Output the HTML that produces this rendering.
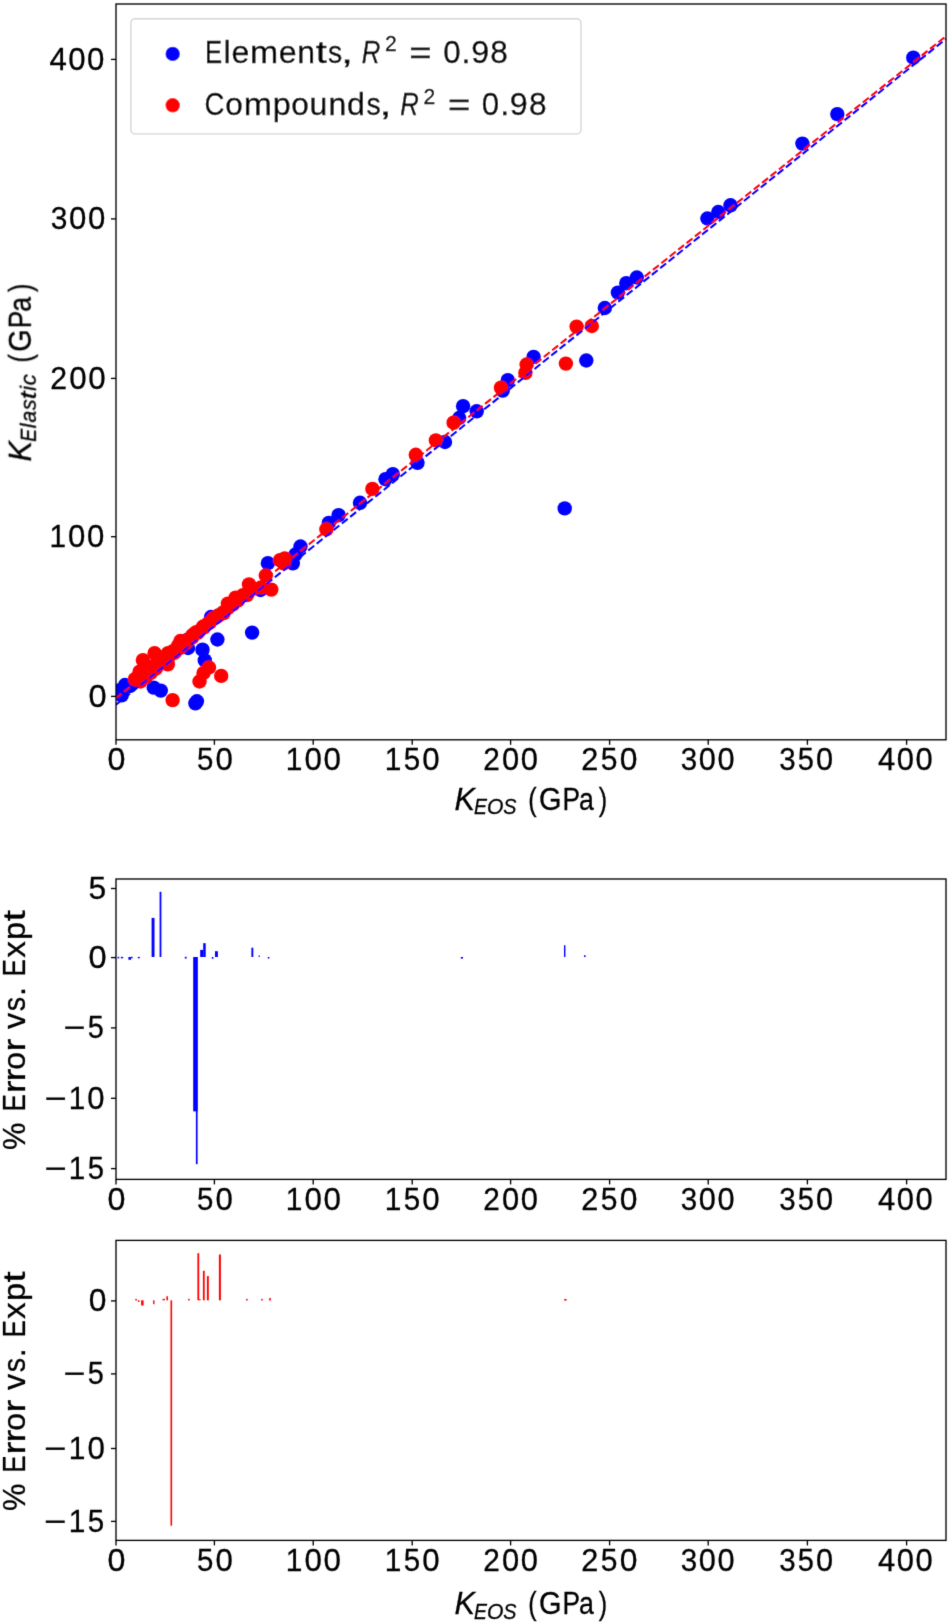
<!DOCTYPE html><html><head><meta charset="utf-8"><title>K_EOS vs K_Elastic</title><style>html,body{margin:0;padding:0;background:#fff;overflow:hidden}svg{display:block}</style></head><body>
<svg width="950" height="1622" viewBox="0 0 950 1622">
<rect width="950" height="1622" fill="#fff"/>
<defs><filter id="bl" x="0" y="0" width="950" height="1622" filterUnits="userSpaceOnUse"><feConvolveMatrix order="3" kernelMatrix="0.01134 0.08382 0.01134 0.08382 0.61935 0.08382 0.01134 0.08382 0.01134" edgeMode="none"/></filter></defs>
<g filter="url(#bl)">
<defs><clipPath id="c1"><rect x="116.0" y="4.0" width="830.00" height="735.80"/></clipPath></defs>
<g clip-path="url(#c1)">
<circle cx="913.3" cy="57.7" r="7.2" fill="#0000ff"/>
<circle cx="837.3" cy="114.1" r="7.2" fill="#0000ff"/>
<circle cx="802.4" cy="143.6" r="7.2" fill="#0000ff"/>
<circle cx="730.5" cy="205.3" r="7.2" fill="#0000ff"/>
<circle cx="718.3" cy="212.0" r="7.2" fill="#0000ff"/>
<circle cx="707.4" cy="218.5" r="7.2" fill="#0000ff"/>
<circle cx="636.8" cy="277.5" r="7.2" fill="#0000ff"/>
<circle cx="626.3" cy="283.2" r="7.2" fill="#0000ff"/>
<circle cx="617.9" cy="292.6" r="7.2" fill="#0000ff"/>
<circle cx="604.8" cy="308.0" r="7.2" fill="#0000ff"/>
<circle cx="586.3" cy="360.5" r="7.2" fill="#0000ff"/>
<circle cx="564.7" cy="508.4" r="7.2" fill="#0000ff"/>
<circle cx="533.6" cy="356.9" r="7.2" fill="#0000ff"/>
<circle cx="507.8" cy="380.2" r="7.2" fill="#0000ff"/>
<circle cx="502.7" cy="390.6" r="7.2" fill="#0000ff"/>
<circle cx="476.7" cy="411.3" r="7.2" fill="#0000ff"/>
<circle cx="463.1" cy="406.2" r="7.2" fill="#0000ff"/>
<circle cx="459.2" cy="418.0" r="7.2" fill="#0000ff"/>
<circle cx="445.0" cy="442.0" r="7.2" fill="#0000ff"/>
<circle cx="417.5" cy="462.8" r="7.2" fill="#0000ff"/>
<circle cx="392.8" cy="474.2" r="7.2" fill="#0000ff"/>
<circle cx="385.5" cy="479.2" r="7.2" fill="#0000ff"/>
<circle cx="360.0" cy="502.8" r="7.2" fill="#0000ff"/>
<circle cx="338.6" cy="515.2" r="7.2" fill="#0000ff"/>
<circle cx="328.8" cy="522.9" r="7.2" fill="#0000ff"/>
<circle cx="300.5" cy="546.5" r="7.2" fill="#0000ff"/>
<circle cx="295.5" cy="554.5" r="7.2" fill="#0000ff"/>
<circle cx="292.8" cy="563.4" r="7.2" fill="#0000ff"/>
<circle cx="267.9" cy="563.2" r="7.2" fill="#0000ff"/>
<circle cx="260.5" cy="590.0" r="7.2" fill="#0000ff"/>
<circle cx="252.1" cy="632.6" r="7.2" fill="#0000ff"/>
<circle cx="217.4" cy="639.5" r="7.2" fill="#0000ff"/>
<circle cx="202.5" cy="649.7" r="7.2" fill="#0000ff"/>
<circle cx="204.8" cy="660.4" r="7.2" fill="#0000ff"/>
<circle cx="196.9" cy="701.3" r="7.2" fill="#0000ff"/>
<circle cx="195.4" cy="703.4" r="7.2" fill="#0000ff"/>
<circle cx="153.7" cy="687.6" r="7.2" fill="#0000ff"/>
<circle cx="160.8" cy="690.6" r="7.2" fill="#0000ff"/>
<circle cx="211.0" cy="617.0" r="7.2" fill="#0000ff"/>
<circle cx="187.0" cy="640.0" r="7.2" fill="#0000ff"/>
<circle cx="188.0" cy="648.0" r="7.2" fill="#0000ff"/>
<circle cx="118.8" cy="690.5" r="7.2" fill="#0000ff"/>
<circle cx="125.0" cy="685.0" r="7.2" fill="#0000ff"/>
<circle cx="121.7" cy="695.3" r="7.2" fill="#0000ff"/>
<circle cx="130.0" cy="686.0" r="7.2" fill="#0000ff"/>
<circle cx="140.0" cy="678.0" r="7.2" fill="#0000ff"/>
<circle cx="150.0" cy="670.0" r="7.2" fill="#0000ff"/>
<circle cx="175.0" cy="652.0" r="7.2" fill="#0000ff"/>
<circle cx="591.8" cy="326.0" r="7.2" fill="#ff0000"/>
<circle cx="576.6" cy="326.6" r="7.2" fill="#ff0000"/>
<circle cx="565.9" cy="363.6" r="7.2" fill="#ff0000"/>
<circle cx="526.6" cy="364.5" r="7.2" fill="#ff0000"/>
<circle cx="525.4" cy="372.9" r="7.2" fill="#ff0000"/>
<circle cx="501.0" cy="387.7" r="7.2" fill="#ff0000"/>
<circle cx="453.6" cy="422.7" r="7.2" fill="#ff0000"/>
<circle cx="435.9" cy="440.4" r="7.2" fill="#ff0000"/>
<circle cx="415.8" cy="454.8" r="7.2" fill="#ff0000"/>
<circle cx="372.4" cy="488.9" r="7.2" fill="#ff0000"/>
<circle cx="326.4" cy="529.3" r="7.2" fill="#ff0000"/>
<circle cx="280.0" cy="560.2" r="7.2" fill="#ff0000"/>
<circle cx="284.7" cy="558.4" r="7.2" fill="#ff0000"/>
<circle cx="283.7" cy="563.4" r="7.2" fill="#ff0000"/>
<circle cx="265.8" cy="575.5" r="7.2" fill="#ff0000"/>
<circle cx="271.3" cy="589.6" r="7.2" fill="#ff0000"/>
<circle cx="249.0" cy="584.4" r="7.2" fill="#ff0000"/>
<circle cx="246.8" cy="595.1" r="7.2" fill="#ff0000"/>
<circle cx="235.6" cy="597.7" r="7.2" fill="#ff0000"/>
<circle cx="227.9" cy="603.6" r="7.2" fill="#ff0000"/>
<circle cx="223.6" cy="613.1" r="7.2" fill="#ff0000"/>
<circle cx="218.4" cy="615.5" r="7.2" fill="#ff0000"/>
<circle cx="203.3" cy="626.5" r="7.2" fill="#ff0000"/>
<circle cx="195.7" cy="632.5" r="7.2" fill="#ff0000"/>
<circle cx="191.8" cy="636.0" r="7.2" fill="#ff0000"/>
<circle cx="180.4" cy="641.0" r="7.2" fill="#ff0000"/>
<circle cx="169.1" cy="653.5" r="7.2" fill="#ff0000"/>
<circle cx="158.6" cy="658.3" r="7.2" fill="#ff0000"/>
<circle cx="154.6" cy="653.2" r="7.2" fill="#ff0000"/>
<circle cx="142.9" cy="660.2" r="7.2" fill="#ff0000"/>
<circle cx="148.2" cy="667.8" r="7.2" fill="#ff0000"/>
<circle cx="139.7" cy="671.6" r="7.2" fill="#ff0000"/>
<circle cx="134.9" cy="679.2" r="7.2" fill="#ff0000"/>
<circle cx="167.8" cy="664.3" r="7.2" fill="#ff0000"/>
<circle cx="209.0" cy="667.5" r="7.2" fill="#ff0000"/>
<circle cx="203.5" cy="673.0" r="7.2" fill="#ff0000"/>
<circle cx="199.5" cy="681.5" r="7.2" fill="#ff0000"/>
<circle cx="221.2" cy="675.9" r="7.2" fill="#ff0000"/>
<circle cx="172.6" cy="700.1" r="7.2" fill="#ff0000"/>
<circle cx="138.0" cy="676.9" r="7.2" fill="#ff0000"/>
<circle cx="143.0" cy="673.7" r="7.2" fill="#ff0000"/>
<circle cx="148.0" cy="669.4" r="7.2" fill="#ff0000"/>
<circle cx="153.0" cy="666.1" r="7.2" fill="#ff0000"/>
<circle cx="158.0" cy="662.3" r="7.2" fill="#ff0000"/>
<circle cx="163.0" cy="657.1" r="7.2" fill="#ff0000"/>
<circle cx="168.0" cy="653.1" r="7.2" fill="#ff0000"/>
<circle cx="173.0" cy="651.2" r="7.2" fill="#ff0000"/>
<circle cx="178.0" cy="645.9" r="7.2" fill="#ff0000"/>
<circle cx="183.0" cy="642.0" r="7.2" fill="#ff0000"/>
<circle cx="188.0" cy="639.9" r="7.2" fill="#ff0000"/>
<circle cx="193.0" cy="634.8" r="7.2" fill="#ff0000"/>
<circle cx="198.0" cy="631.8" r="7.2" fill="#ff0000"/>
<circle cx="203.0" cy="627.1" r="7.2" fill="#ff0000"/>
<circle cx="208.0" cy="623.6" r="7.2" fill="#ff0000"/>
<circle cx="213.0" cy="618.5" r="7.2" fill="#ff0000"/>
<circle cx="218.0" cy="615.8" r="7.2" fill="#ff0000"/>
<circle cx="223.0" cy="612.5" r="7.2" fill="#ff0000"/>
<circle cx="228.0" cy="607.8" r="7.2" fill="#ff0000"/>
<circle cx="233.0" cy="604.5" r="7.2" fill="#ff0000"/>
<circle cx="238.0" cy="600.4" r="7.2" fill="#ff0000"/>
<circle cx="243.0" cy="595.1" r="7.2" fill="#ff0000"/>
<circle cx="248.0" cy="592.9" r="7.2" fill="#ff0000"/>
<circle cx="253.0" cy="588.6" r="7.2" fill="#ff0000"/>
<circle cx="140.5" cy="681.5" r="7.2" fill="#ff0000"/>
<circle cx="146.0" cy="676.8" r="7.2" fill="#ff0000"/>
<circle cx="151.0" cy="672.6" r="7.2" fill="#ff0000"/>
<circle cx="156.0" cy="668.3" r="7.2" fill="#ff0000"/>
<circle cx="162.0" cy="663.2" r="7.2" fill="#ff0000"/>
<circle cx="168.0" cy="658.1" r="7.2" fill="#ff0000"/>
<circle cx="174.0" cy="653.0" r="7.2" fill="#ff0000"/>
<circle cx="180.0" cy="647.9" r="7.2" fill="#ff0000"/>
<circle cx="186.0" cy="642.8" r="7.2" fill="#ff0000"/>
<circle cx="192.0" cy="637.7" r="7.2" fill="#ff0000"/>
<circle cx="198.0" cy="632.6" r="7.2" fill="#ff0000"/>
<circle cx="204.0" cy="627.5" r="7.2" fill="#ff0000"/>
<circle cx="210.0" cy="622.4" r="7.2" fill="#ff0000"/>
<circle cx="216.0" cy="617.3" r="7.2" fill="#ff0000"/>
<circle cx="261.0" cy="587.5" r="7.2" fill="#ff0000"/>
<line x1="115.63" y1="705.00" x2="950" y2="35.67" stroke="#0000ff" stroke-width="2.05" stroke-dasharray="7.5 3.24"/>
<line x1="115.63" y1="698.50" x2="950" y2="33.00" stroke="#ff0000" stroke-width="2.05" stroke-dasharray="7.5 3.24"/>
</g>
<rect x="151.6" y="917.9" width="2.90" height="39.10" fill="#0000ff"/>
<rect x="159.6" y="891.8" width="1.80" height="65.20" fill="#0000ff"/>
<rect x="193.2" y="957.0" width="4.40" height="154.40" fill="#0000ff"/>
<rect x="195.9" y="957.0" width="1.70" height="207.20" fill="#0000ff"/>
<rect x="200.2" y="949.9" width="3.00" height="7.10" fill="#0000ff"/>
<rect x="203.2" y="943.2" width="2.50" height="13.80" fill="#0000ff"/>
<rect x="215.0" y="951.2" width="2.90" height="5.80" fill="#0000ff"/>
<rect x="251.4" y="947.7" width="1.90" height="9.30" fill="#0000ff"/>
<rect x="258.6" y="955.5" width="1.20" height="1.50" fill="#0000ff"/>
<rect x="267.8" y="957.0" width="1.60" height="1.60" fill="#0000ff"/>
<rect x="460.8" y="957.0" width="2.20" height="1.60" fill="#0000ff"/>
<rect x="564.0" y="945.2" width="1.40" height="11.80" fill="#0000ff"/>
<rect x="584.0" y="955.3" width="1.60" height="1.70" fill="#0000ff"/>
<rect x="117.6" y="956.8" width="1.60" height="1.60" fill="#0000ff"/>
<rect x="120.8" y="956.9" width="2.40" height="1.40" fill="#0000ff"/>
<rect x="128.4" y="957.0" width="2.60" height="2.80" fill="#0000ff"/>
<rect x="131.0" y="956.8" width="1.60" height="1.50" fill="#0000ff"/>
<rect x="137.8" y="956.9" width="2.00" height="1.40" fill="#0000ff"/>
<rect x="184.8" y="956.8" width="1.80" height="1.80" fill="#0000ff"/>
<rect x="211.8" y="957.0" width="1.60" height="1.80" fill="#0000ff"/>
<rect x="135.3" y="1298.9" width="1.60" height="1.60" fill="#ff0000"/>
<rect x="137.9" y="1300.2" width="1.60" height="1.60" fill="#ff0000"/>
<rect x="141.1" y="1300.3" width="2.50" height="5.20" fill="#ff0000"/>
<rect x="153.1" y="1300.3" width="1.40" height="3.90" fill="#ff0000"/>
<rect x="162.5" y="1298.9" width="2.50" height="1.40" fill="#ff0000"/>
<rect x="166.4" y="1296.3" width="1.60" height="4.00" fill="#ff0000"/>
<rect x="170.5" y="1300.3" width="1.60" height="225.40" fill="#ff0000"/>
<rect x="188.1" y="1298.9" width="1.60" height="1.60" fill="#ff0000"/>
<rect x="197.4" y="1253.2" width="1.80" height="47.10" fill="#ff0000"/>
<rect x="199.2" y="1299.0" width="1.30" height="1.30" fill="#ff0000"/>
<rect x="202.9" y="1270.8" width="1.80" height="29.50" fill="#ff0000"/>
<rect x="206.9" y="1276.1" width="1.90" height="24.20" fill="#ff0000"/>
<rect x="218.9" y="1254.5" width="2.00" height="45.80" fill="#ff0000"/>
<rect x="246.1" y="1298.9" width="1.60" height="1.60" fill="#ff0000"/>
<rect x="261.1" y="1298.9" width="1.60" height="1.60" fill="#ff0000"/>
<rect x="269.2" y="1298.0" width="1.60" height="2.60" fill="#ff0000"/>
<rect x="564.2" y="1299.0" width="2.40" height="1.60" fill="#ff0000"/>
<line x1="111.00" y1="696.4" x2="116.0" y2="696.4" stroke="#000" stroke-width="1.34"/>
<line x1="111.00" y1="536.7" x2="116.0" y2="536.7" stroke="#000" stroke-width="1.34"/>
<line x1="111.00" y1="378.4" x2="116.0" y2="378.4" stroke="#000" stroke-width="1.34"/>
<line x1="111.00" y1="218.9" x2="116.0" y2="218.9" stroke="#000" stroke-width="1.34"/>
<line x1="111.00" y1="59.4" x2="116.0" y2="59.4" stroke="#000" stroke-width="1.34"/>
<line x1="116.0" y1="739.8" x2="116.0" y2="744.80" stroke="#000" stroke-width="1.34"/>
<line x1="214.4" y1="739.8" x2="214.4" y2="744.80" stroke="#000" stroke-width="1.34"/>
<line x1="313.2" y1="739.8" x2="313.2" y2="744.80" stroke="#000" stroke-width="1.34"/>
<line x1="412.2" y1="739.8" x2="412.2" y2="744.80" stroke="#000" stroke-width="1.34"/>
<line x1="510.6" y1="739.8" x2="510.6" y2="744.80" stroke="#000" stroke-width="1.34"/>
<line x1="609.6" y1="739.8" x2="609.6" y2="744.80" stroke="#000" stroke-width="1.34"/>
<line x1="708.2" y1="739.8" x2="708.2" y2="744.80" stroke="#000" stroke-width="1.34"/>
<line x1="807.4" y1="739.8" x2="807.4" y2="744.80" stroke="#000" stroke-width="1.34"/>
<line x1="906.6" y1="739.8" x2="906.6" y2="744.80" stroke="#000" stroke-width="1.34"/>
<rect x="116.0" y="4.0" width="830.00" height="735.80" fill="none" stroke="#000" stroke-width="1.34"/>
<line x1="111.00" y1="888.5" x2="116.0" y2="888.5" stroke="#000" stroke-width="1.34"/>
<line x1="111.00" y1="957.6" x2="116.0" y2="957.6" stroke="#000" stroke-width="1.34"/>
<line x1="111.00" y1="1027.9" x2="116.0" y2="1027.9" stroke="#000" stroke-width="1.34"/>
<line x1="111.00" y1="1098.3" x2="116.0" y2="1098.3" stroke="#000" stroke-width="1.34"/>
<line x1="111.00" y1="1168.6" x2="116.0" y2="1168.6" stroke="#000" stroke-width="1.34"/>
<line x1="116.0" y1="1179.4" x2="116.0" y2="1184.40" stroke="#000" stroke-width="1.34"/>
<line x1="214.4" y1="1179.4" x2="214.4" y2="1184.40" stroke="#000" stroke-width="1.34"/>
<line x1="313.2" y1="1179.4" x2="313.2" y2="1184.40" stroke="#000" stroke-width="1.34"/>
<line x1="412.2" y1="1179.4" x2="412.2" y2="1184.40" stroke="#000" stroke-width="1.34"/>
<line x1="510.6" y1="1179.4" x2="510.6" y2="1184.40" stroke="#000" stroke-width="1.34"/>
<line x1="609.6" y1="1179.4" x2="609.6" y2="1184.40" stroke="#000" stroke-width="1.34"/>
<line x1="708.2" y1="1179.4" x2="708.2" y2="1184.40" stroke="#000" stroke-width="1.34"/>
<line x1="807.4" y1="1179.4" x2="807.4" y2="1184.40" stroke="#000" stroke-width="1.34"/>
<line x1="906.6" y1="1179.4" x2="906.6" y2="1184.40" stroke="#000" stroke-width="1.34"/>
<rect x="116.0" y="879.0" width="830.00" height="300.40" fill="none" stroke="#000" stroke-width="1.34"/>
<line x1="111.00" y1="1300.9" x2="116.0" y2="1300.9" stroke="#000" stroke-width="1.34"/>
<line x1="111.00" y1="1373.9" x2="116.0" y2="1373.9" stroke="#000" stroke-width="1.34"/>
<line x1="111.00" y1="1448.5" x2="116.0" y2="1448.5" stroke="#000" stroke-width="1.34"/>
<line x1="111.00" y1="1521.4" x2="116.0" y2="1521.4" stroke="#000" stroke-width="1.34"/>
<line x1="116.0" y1="1540.4" x2="116.0" y2="1545.40" stroke="#000" stroke-width="1.34"/>
<line x1="214.4" y1="1540.4" x2="214.4" y2="1545.40" stroke="#000" stroke-width="1.34"/>
<line x1="313.2" y1="1540.4" x2="313.2" y2="1545.40" stroke="#000" stroke-width="1.34"/>
<line x1="412.2" y1="1540.4" x2="412.2" y2="1545.40" stroke="#000" stroke-width="1.34"/>
<line x1="510.6" y1="1540.4" x2="510.6" y2="1545.40" stroke="#000" stroke-width="1.34"/>
<line x1="609.6" y1="1540.4" x2="609.6" y2="1545.40" stroke="#000" stroke-width="1.34"/>
<line x1="708.2" y1="1540.4" x2="708.2" y2="1545.40" stroke="#000" stroke-width="1.34"/>
<line x1="807.4" y1="1540.4" x2="807.4" y2="1545.40" stroke="#000" stroke-width="1.34"/>
<line x1="906.6" y1="1540.4" x2="906.6" y2="1545.40" stroke="#000" stroke-width="1.34"/>
<rect x="116.0" y="1240.4" width="830.00" height="300.00" fill="none" stroke="#000" stroke-width="1.34"/>
<rect x="130.9" y="18.8" width="450.1" height="115.1" rx="4.2" fill="#fff" fill-opacity="0.8" stroke="#d6d6d6" stroke-width="1.4"/>
<circle cx="172.7" cy="53.9" r="7.2" fill="#0000ff"/>
<circle cx="172.7" cy="105.3" r="7.2" fill="#ff0000"/>
<defs><filter id="gs" x="0" y="0" width="1" height="1" filterUnits="objectBoundingBox"><feColorMatrix type="saturate" values="0"/></filter></defs>
<g font-family="Liberation Sans, sans-serif" fill="#000" stroke="#000" stroke-width="0.3" filter="url(#gs)">
<text y="706.70" font-size="31.47"><tspan x="88.43" textLength="18.15" lengthAdjust="spacingAndGlyphs">0</tspan></text>
<text y="547.00" font-size="31.47"><tspan x="49.53" textLength="16.55" lengthAdjust="spacingAndGlyphs">1</tspan><tspan x="68.09" textLength="17.33" lengthAdjust="spacingAndGlyphs">0</tspan><tspan x="86.89" textLength="17.33" lengthAdjust="spacingAndGlyphs">0</tspan></text>
<text y="388.70" font-size="31.47"><tspan x="50.28" textLength="16.80" lengthAdjust="spacingAndGlyphs">2</tspan><tspan x="69.28" textLength="17.43" lengthAdjust="spacingAndGlyphs">0</tspan><tspan x="88.19" textLength="17.43" lengthAdjust="spacingAndGlyphs">0</tspan></text>
<text y="229.20" font-size="31.47"><tspan x="50.66" textLength="16.64" lengthAdjust="spacingAndGlyphs">3</tspan><tspan x="69.08" textLength="17.33" lengthAdjust="spacingAndGlyphs">0</tspan><tspan x="87.89" textLength="17.33" lengthAdjust="spacingAndGlyphs">0</tspan></text>
<text y="69.70" font-size="31.47"><tspan x="49.38" textLength="17.36" lengthAdjust="spacingAndGlyphs">4</tspan><tspan x="68.22" textLength="17.36" lengthAdjust="spacingAndGlyphs">0</tspan><tspan x="87.06" textLength="17.36" lengthAdjust="spacingAndGlyphs">0</tspan></text>
<text y="898.80" font-size="31.47"><tspan x="88.42" textLength="17.71" lengthAdjust="spacingAndGlyphs">5</tspan></text>
<text y="967.90" font-size="31.47"><tspan x="88.43" textLength="18.15" lengthAdjust="spacingAndGlyphs">0</tspan></text>
<text y="1038.20" font-size="31.47"><tspan x="63.45" textLength="21.85" lengthAdjust="spacingAndGlyphs">−</tspan></text>
<text y="1038.20" font-size="31.47"><tspan x="87.64" textLength="16.07" lengthAdjust="spacingAndGlyphs">5</tspan></text>
<text y="1108.60" font-size="31.47"><tspan x="44.43" textLength="22.17" lengthAdjust="spacingAndGlyphs">−</tspan></text>
<text y="1108.60" font-size="31.47"><tspan x="68.84" textLength="16.50" lengthAdjust="spacingAndGlyphs">1</tspan><tspan x="87.34" textLength="17.27" lengthAdjust="spacingAndGlyphs">0</tspan></text>
<text y="1178.90" font-size="31.47"><tspan x="44.43" textLength="22.14" lengthAdjust="spacingAndGlyphs">−</tspan></text>
<text y="1178.90" font-size="31.47"><tspan x="68.81" textLength="16.47" lengthAdjust="spacingAndGlyphs">1</tspan><tspan x="87.65" textLength="16.28" lengthAdjust="spacingAndGlyphs">5</tspan></text>
<text y="1311.20" font-size="31.47"><tspan x="88.86" textLength="17.68" lengthAdjust="spacingAndGlyphs">0</tspan></text>
<text y="1384.20" font-size="31.47"><tspan x="63.45" textLength="21.85" lengthAdjust="spacingAndGlyphs">−</tspan></text>
<text y="1384.20" font-size="31.47"><tspan x="87.64" textLength="16.07" lengthAdjust="spacingAndGlyphs">5</tspan></text>
<text y="1458.80" font-size="31.47"><tspan x="44.11" textLength="22.36" lengthAdjust="spacingAndGlyphs">−</tspan></text>
<text y="1458.80" font-size="31.47"><tspan x="68.74" textLength="16.64" lengthAdjust="spacingAndGlyphs">1</tspan><tspan x="87.40" textLength="17.42" lengthAdjust="spacingAndGlyphs">0</tspan></text>
<text y="1531.70" font-size="31.47"><tspan x="44.11" textLength="22.33" lengthAdjust="spacingAndGlyphs">−</tspan></text>
<text y="1531.70" font-size="31.47"><tspan x="68.71" textLength="16.62" lengthAdjust="spacingAndGlyphs">1</tspan><tspan x="87.72" textLength="16.42" lengthAdjust="spacingAndGlyphs">5</tspan></text>
<text y="770.00" font-size="31.47"><tspan x="107.54" textLength="17.92" lengthAdjust="spacingAndGlyphs">0</tspan></text>
<text y="770.00" font-size="31.47"><tspan x="197.02" textLength="16.37" lengthAdjust="spacingAndGlyphs">5</tspan><tspan x="215.47" textLength="17.35" lengthAdjust="spacingAndGlyphs">0</tspan></text>
<text y="770.00" font-size="31.47"><tspan x="285.82" textLength="16.65" lengthAdjust="spacingAndGlyphs">1</tspan><tspan x="304.48" textLength="17.43" lengthAdjust="spacingAndGlyphs">0</tspan><tspan x="323.40" textLength="17.43" lengthAdjust="spacingAndGlyphs">0</tspan></text>
<text y="770.00" font-size="31.47"><tspan x="384.72" textLength="16.61" lengthAdjust="spacingAndGlyphs">1</tspan><tspan x="403.72" textLength="16.42" lengthAdjust="spacingAndGlyphs">5</tspan><tspan x="422.23" textLength="17.39" lengthAdjust="spacingAndGlyphs">0</tspan></text>
<text y="770.00" font-size="31.47"><tspan x="483.30" textLength="16.58" lengthAdjust="spacingAndGlyphs">2</tspan><tspan x="502.04" textLength="17.20" lengthAdjust="spacingAndGlyphs">0</tspan><tspan x="520.71" textLength="17.20" lengthAdjust="spacingAndGlyphs">0</tspan></text>
<text y="770.00" font-size="31.47"><tspan x="581.16" textLength="17.06" lengthAdjust="spacingAndGlyphs">2</tspan><tspan x="600.82" textLength="16.70" lengthAdjust="spacingAndGlyphs">5</tspan><tspan x="619.65" textLength="17.70" lengthAdjust="spacingAndGlyphs">0</tspan></text>
<text y="770.00" font-size="31.47"><tspan x="680.68" textLength="16.42" lengthAdjust="spacingAndGlyphs">3</tspan><tspan x="698.85" textLength="17.10" lengthAdjust="spacingAndGlyphs">0</tspan><tspan x="717.41" textLength="17.10" lengthAdjust="spacingAndGlyphs">0</tspan></text>
<text y="770.00" font-size="31.47"><tspan x="779.18" textLength="16.42" lengthAdjust="spacingAndGlyphs">3</tspan><tspan x="797.72" textLength="16.13" lengthAdjust="spacingAndGlyphs">5</tspan><tspan x="815.91" textLength="17.10" lengthAdjust="spacingAndGlyphs">0</tspan></text>
<text y="770.00" font-size="31.47"><tspan x="878.09" textLength="17.23" lengthAdjust="spacingAndGlyphs">4</tspan><tspan x="896.79" textLength="17.23" lengthAdjust="spacingAndGlyphs">0</tspan><tspan x="915.48" textLength="17.23" lengthAdjust="spacingAndGlyphs">0</tspan></text>
<text y="1209.60" font-size="31.47"><tspan x="107.54" textLength="17.92" lengthAdjust="spacingAndGlyphs">0</tspan></text>
<text y="1209.60" font-size="31.47"><tspan x="197.02" textLength="16.37" lengthAdjust="spacingAndGlyphs">5</tspan><tspan x="215.47" textLength="17.35" lengthAdjust="spacingAndGlyphs">0</tspan></text>
<text y="1209.60" font-size="31.47"><tspan x="285.82" textLength="16.65" lengthAdjust="spacingAndGlyphs">1</tspan><tspan x="304.48" textLength="17.43" lengthAdjust="spacingAndGlyphs">0</tspan><tspan x="323.40" textLength="17.43" lengthAdjust="spacingAndGlyphs">0</tspan></text>
<text y="1209.60" font-size="31.47"><tspan x="384.72" textLength="16.61" lengthAdjust="spacingAndGlyphs">1</tspan><tspan x="403.72" textLength="16.42" lengthAdjust="spacingAndGlyphs">5</tspan><tspan x="422.23" textLength="17.39" lengthAdjust="spacingAndGlyphs">0</tspan></text>
<text y="1209.60" font-size="31.47"><tspan x="483.30" textLength="16.58" lengthAdjust="spacingAndGlyphs">2</tspan><tspan x="502.04" textLength="17.20" lengthAdjust="spacingAndGlyphs">0</tspan><tspan x="520.71" textLength="17.20" lengthAdjust="spacingAndGlyphs">0</tspan></text>
<text y="1209.60" font-size="31.47"><tspan x="581.16" textLength="17.06" lengthAdjust="spacingAndGlyphs">2</tspan><tspan x="600.82" textLength="16.70" lengthAdjust="spacingAndGlyphs">5</tspan><tspan x="619.65" textLength="17.70" lengthAdjust="spacingAndGlyphs">0</tspan></text>
<text y="1209.60" font-size="31.47"><tspan x="680.68" textLength="16.42" lengthAdjust="spacingAndGlyphs">3</tspan><tspan x="698.85" textLength="17.10" lengthAdjust="spacingAndGlyphs">0</tspan><tspan x="717.41" textLength="17.10" lengthAdjust="spacingAndGlyphs">0</tspan></text>
<text y="1209.60" font-size="31.47"><tspan x="779.18" textLength="16.42" lengthAdjust="spacingAndGlyphs">3</tspan><tspan x="797.72" textLength="16.13" lengthAdjust="spacingAndGlyphs">5</tspan><tspan x="815.91" textLength="17.10" lengthAdjust="spacingAndGlyphs">0</tspan></text>
<text y="1209.60" font-size="31.47"><tspan x="878.09" textLength="17.23" lengthAdjust="spacingAndGlyphs">4</tspan><tspan x="896.79" textLength="17.23" lengthAdjust="spacingAndGlyphs">0</tspan><tspan x="915.48" textLength="17.23" lengthAdjust="spacingAndGlyphs">0</tspan></text>
<text y="1570.60" font-size="31.47"><tspan x="107.54" textLength="17.92" lengthAdjust="spacingAndGlyphs">0</tspan></text>
<text y="1570.60" font-size="31.47"><tspan x="197.02" textLength="16.37" lengthAdjust="spacingAndGlyphs">5</tspan><tspan x="215.47" textLength="17.35" lengthAdjust="spacingAndGlyphs">0</tspan></text>
<text y="1570.60" font-size="31.47"><tspan x="285.82" textLength="16.65" lengthAdjust="spacingAndGlyphs">1</tspan><tspan x="304.48" textLength="17.43" lengthAdjust="spacingAndGlyphs">0</tspan><tspan x="323.40" textLength="17.43" lengthAdjust="spacingAndGlyphs">0</tspan></text>
<text y="1570.60" font-size="31.47"><tspan x="384.72" textLength="16.61" lengthAdjust="spacingAndGlyphs">1</tspan><tspan x="403.72" textLength="16.42" lengthAdjust="spacingAndGlyphs">5</tspan><tspan x="422.23" textLength="17.39" lengthAdjust="spacingAndGlyphs">0</tspan></text>
<text y="1570.60" font-size="31.47"><tspan x="483.30" textLength="16.58" lengthAdjust="spacingAndGlyphs">2</tspan><tspan x="502.04" textLength="17.20" lengthAdjust="spacingAndGlyphs">0</tspan><tspan x="520.71" textLength="17.20" lengthAdjust="spacingAndGlyphs">0</tspan></text>
<text y="1570.60" font-size="31.47"><tspan x="581.16" textLength="17.06" lengthAdjust="spacingAndGlyphs">2</tspan><tspan x="600.82" textLength="16.70" lengthAdjust="spacingAndGlyphs">5</tspan><tspan x="619.65" textLength="17.70" lengthAdjust="spacingAndGlyphs">0</tspan></text>
<text y="1570.60" font-size="31.47"><tspan x="680.68" textLength="16.42" lengthAdjust="spacingAndGlyphs">3</tspan><tspan x="698.85" textLength="17.10" lengthAdjust="spacingAndGlyphs">0</tspan><tspan x="717.41" textLength="17.10" lengthAdjust="spacingAndGlyphs">0</tspan></text>
<text y="1570.60" font-size="31.47"><tspan x="779.18" textLength="16.42" lengthAdjust="spacingAndGlyphs">3</tspan><tspan x="797.72" textLength="16.13" lengthAdjust="spacingAndGlyphs">5</tspan><tspan x="815.91" textLength="17.10" lengthAdjust="spacingAndGlyphs">0</tspan></text>
<text y="1570.60" font-size="31.47"><tspan x="878.09" textLength="17.23" lengthAdjust="spacingAndGlyphs">4</tspan><tspan x="896.79" textLength="17.23" lengthAdjust="spacingAndGlyphs">0</tspan><tspan x="915.48" textLength="17.23" lengthAdjust="spacingAndGlyphs">0</tspan></text>
<text y="62.60" font-size="31.47"><tspan x="205.00" textLength="17.17" lengthAdjust="spacingAndGlyphs">E</tspan><tspan x="223.72" textLength="6.75" lengthAdjust="spacingAndGlyphs">l</tspan><tspan x="231.49" textLength="17.84" lengthAdjust="spacingAndGlyphs">e</tspan><tspan x="249.94" textLength="28.19" lengthAdjust="spacingAndGlyphs">m</tspan><tspan x="278.70" textLength="17.84" lengthAdjust="spacingAndGlyphs">e</tspan><tspan x="297.26" textLength="17.81" lengthAdjust="spacingAndGlyphs">n</tspan><tspan x="315.71" textLength="11.03" lengthAdjust="spacingAndGlyphs">t</tspan><tspan x="327.98" textLength="14.23" lengthAdjust="spacingAndGlyphs">s</tspan><tspan x="341.04" textLength="12.03" lengthAdjust="spacingAndGlyphs">,</tspan></text>
<text y="62.60" font-size="31.47" font-style="italic"><tspan x="361.79" textLength="18.61" lengthAdjust="spacingAndGlyphs">R</tspan></text>
<text y="51.12" font-size="22.03"><tspan x="385.02" textLength="11.75" lengthAdjust="spacingAndGlyphs">2</tspan></text>
<text y="62.60" font-size="31.47"><tspan x="409.36" textLength="22.35" lengthAdjust="spacingAndGlyphs">=</tspan></text>
<text y="62.60" font-size="31.47"><tspan x="443.20" textLength="17.41" lengthAdjust="spacingAndGlyphs">0</tspan><tspan x="461.61" textLength="8.93" lengthAdjust="spacingAndGlyphs">.</tspan><tspan x="471.16" textLength="17.98" lengthAdjust="spacingAndGlyphs">9</tspan><tspan x="490.34" textLength="17.60" lengthAdjust="spacingAndGlyphs">8</tspan></text>
<text y="115.00" font-size="31.47"><tspan x="204.57" textLength="19.91" lengthAdjust="spacingAndGlyphs">C</tspan><tspan x="225.35" textLength="17.56" lengthAdjust="spacingAndGlyphs">o</tspan><tspan x="243.66" textLength="28.19" lengthAdjust="spacingAndGlyphs">m</tspan><tspan x="272.75" textLength="17.97" lengthAdjust="spacingAndGlyphs">p</tspan><tspan x="291.31" textLength="17.56" lengthAdjust="spacingAndGlyphs">o</tspan><tspan x="309.61" textLength="17.81" lengthAdjust="spacingAndGlyphs">u</tspan><tspan x="328.56" textLength="17.81" lengthAdjust="spacingAndGlyphs">n</tspan><tspan x="347.09" textLength="17.95" lengthAdjust="spacingAndGlyphs">d</tspan><tspan x="366.48" textLength="14.23" lengthAdjust="spacingAndGlyphs">s</tspan><tspan x="379.54" textLength="12.03" lengthAdjust="spacingAndGlyphs">,</tspan></text>
<text y="115.00" font-size="31.47" font-style="italic"><tspan x="400.35" textLength="18.61" lengthAdjust="spacingAndGlyphs">R</tspan></text>
<text y="103.52" font-size="22.03"><tspan x="423.58" textLength="11.75" lengthAdjust="spacingAndGlyphs">2</tspan></text>
<text y="115.00" font-size="31.47"><tspan x="447.93" textLength="22.35" lengthAdjust="spacingAndGlyphs">=</tspan></text>
<text y="115.00" font-size="31.47"><tspan x="481.77" textLength="17.41" lengthAdjust="spacingAndGlyphs">0</tspan><tspan x="500.17" textLength="8.93" lengthAdjust="spacingAndGlyphs">.</tspan><tspan x="509.73" textLength="17.98" lengthAdjust="spacingAndGlyphs">9</tspan><tspan x="528.91" textLength="17.60" lengthAdjust="spacingAndGlyphs">8</tspan></text>
<text y="809.70" font-size="31.47" font-style="italic"><tspan x="454.45" textLength="20.47" lengthAdjust="spacingAndGlyphs">K</tspan></text>
<text y="814.00" font-size="22.03" font-style="italic"><tspan x="474.07" textLength="12.95" lengthAdjust="spacingAndGlyphs">E</tspan><tspan x="486.93" textLength="16.43" lengthAdjust="spacingAndGlyphs">O</tspan><tspan x="503.17" textLength="13.19" lengthAdjust="spacingAndGlyphs">S</tspan></text>
<text y="809.70" font-size="31.47"><tspan x="528.15" textLength="8.36" lengthAdjust="spacingAndGlyphs">(</tspan><tspan x="538.95" textLength="22.53" lengthAdjust="spacingAndGlyphs">G</tspan><tspan x="562.52" textLength="17.52" lengthAdjust="spacingAndGlyphs">P</tspan><tspan x="578.98" textLength="14.85" lengthAdjust="spacingAndGlyphs">a</tspan><tspan x="598.76" textLength="8.36" lengthAdjust="spacingAndGlyphs">)</tspan></text>
<text y="1614.30" font-size="31.47" font-style="italic"><tspan x="454.45" textLength="20.47" lengthAdjust="spacingAndGlyphs">K</tspan></text>
<text y="1618.60" font-size="22.03" font-style="italic"><tspan x="474.07" textLength="12.95" lengthAdjust="spacingAndGlyphs">E</tspan><tspan x="486.93" textLength="16.43" lengthAdjust="spacingAndGlyphs">O</tspan><tspan x="503.17" textLength="13.19" lengthAdjust="spacingAndGlyphs">S</tspan></text>
<text y="1614.30" font-size="31.47"><tspan x="528.15" textLength="8.36" lengthAdjust="spacingAndGlyphs">(</tspan><tspan x="538.95" textLength="22.53" lengthAdjust="spacingAndGlyphs">G</tspan><tspan x="562.52" textLength="17.52" lengthAdjust="spacingAndGlyphs">P</tspan><tspan x="578.98" textLength="14.85" lengthAdjust="spacingAndGlyphs">a</tspan><tspan x="598.76" textLength="8.36" lengthAdjust="spacingAndGlyphs">)</tspan></text>
<g transform="translate(30.8,461.3) rotate(-90)"><text y="0.00" font-size="31.47" font-style="italic"><tspan x="-0.15" textLength="20.47" lengthAdjust="spacingAndGlyphs">K</tspan></text><text y="4.92" font-size="22.03" font-style="italic"><tspan x="19.47" textLength="12.95" lengthAdjust="spacingAndGlyphs">E</tspan><tspan x="33.03" textLength="4.81" lengthAdjust="spacingAndGlyphs">l</tspan><tspan x="38.80" textLength="11.71" lengthAdjust="spacingAndGlyphs">a</tspan><tspan x="51.34" textLength="10.65" lengthAdjust="spacingAndGlyphs">s</tspan><tspan x="62.05" textLength="7.76" lengthAdjust="spacingAndGlyphs">t</tspan><tspan x="70.53" textLength="4.81" lengthAdjust="spacingAndGlyphs">i</tspan><tspan x="76.14" textLength="11.17" lengthAdjust="spacingAndGlyphs">c</tspan></text><text y="0.00" font-size="31.47"><tspan x="98.74" textLength="8.36" lengthAdjust="spacingAndGlyphs">(</tspan><tspan x="109.54" textLength="22.53" lengthAdjust="spacingAndGlyphs">G</tspan><tspan x="133.10" textLength="17.52" lengthAdjust="spacingAndGlyphs">P</tspan><tspan x="149.57" textLength="14.85" lengthAdjust="spacingAndGlyphs">a</tspan><tspan x="169.35" textLength="8.36" lengthAdjust="spacingAndGlyphs">)</tspan></text></g>
<g transform="translate(25.0,1148.8) rotate(-90)"><text y="0.00" font-size="31.47"><tspan x="-1.10" textLength="27.40" lengthAdjust="spacingAndGlyphs">%</tspan> <tspan x="37.22" textLength="17.35" lengthAdjust="spacingAndGlyphs">E</tspan><tspan x="55.54" textLength="12.81" lengthAdjust="spacingAndGlyphs">r</tspan><tspan x="67.35" textLength="12.81" lengthAdjust="spacingAndGlyphs">r</tspan><tspan x="79.16" textLength="17.75" lengthAdjust="spacingAndGlyphs">o</tspan><tspan x="97.38" textLength="12.81" lengthAdjust="spacingAndGlyphs">r</tspan> <tspan x="119.87" textLength="16.20" lengthAdjust="spacingAndGlyphs">v</tspan><tspan x="137.68" textLength="14.39" lengthAdjust="spacingAndGlyphs">s</tspan><tspan x="152.73" textLength="9.02" lengthAdjust="spacingAndGlyphs">.</tspan> <tspan x="172.38" textLength="17.35" lengthAdjust="spacingAndGlyphs">E</tspan><tspan x="191.03" textLength="16.65" lengthAdjust="spacingAndGlyphs">x</tspan><tspan x="208.92" textLength="18.16" lengthAdjust="spacingAndGlyphs">p</tspan><tspan x="227.55" textLength="11.15" lengthAdjust="spacingAndGlyphs">t</tspan></text></g>
<g transform="translate(25.2,1509.9) rotate(-90)"><text y="0.00" font-size="31.47"><tspan x="-1.10" textLength="27.39" lengthAdjust="spacingAndGlyphs">%</tspan> <tspan x="37.20" textLength="17.34" lengthAdjust="spacingAndGlyphs">E</tspan><tspan x="55.52" textLength="12.80" lengthAdjust="spacingAndGlyphs">r</tspan><tspan x="67.33" textLength="12.80" lengthAdjust="spacingAndGlyphs">r</tspan><tspan x="79.13" textLength="17.74" lengthAdjust="spacingAndGlyphs">o</tspan><tspan x="97.34" textLength="12.80" lengthAdjust="spacingAndGlyphs">r</tspan> <tspan x="119.82" textLength="16.19" lengthAdjust="spacingAndGlyphs">v</tspan><tspan x="137.62" textLength="14.38" lengthAdjust="spacingAndGlyphs">s</tspan><tspan x="152.67" textLength="9.02" lengthAdjust="spacingAndGlyphs">.</tspan> <tspan x="172.31" textLength="17.34" lengthAdjust="spacingAndGlyphs">E</tspan><tspan x="190.95" textLength="16.64" lengthAdjust="spacingAndGlyphs">x</tspan><tspan x="208.83" textLength="18.15" lengthAdjust="spacingAndGlyphs">p</tspan><tspan x="227.45" textLength="11.14" lengthAdjust="spacingAndGlyphs">t</tspan></text></g>
</g>
</g>
</svg></body></html>
